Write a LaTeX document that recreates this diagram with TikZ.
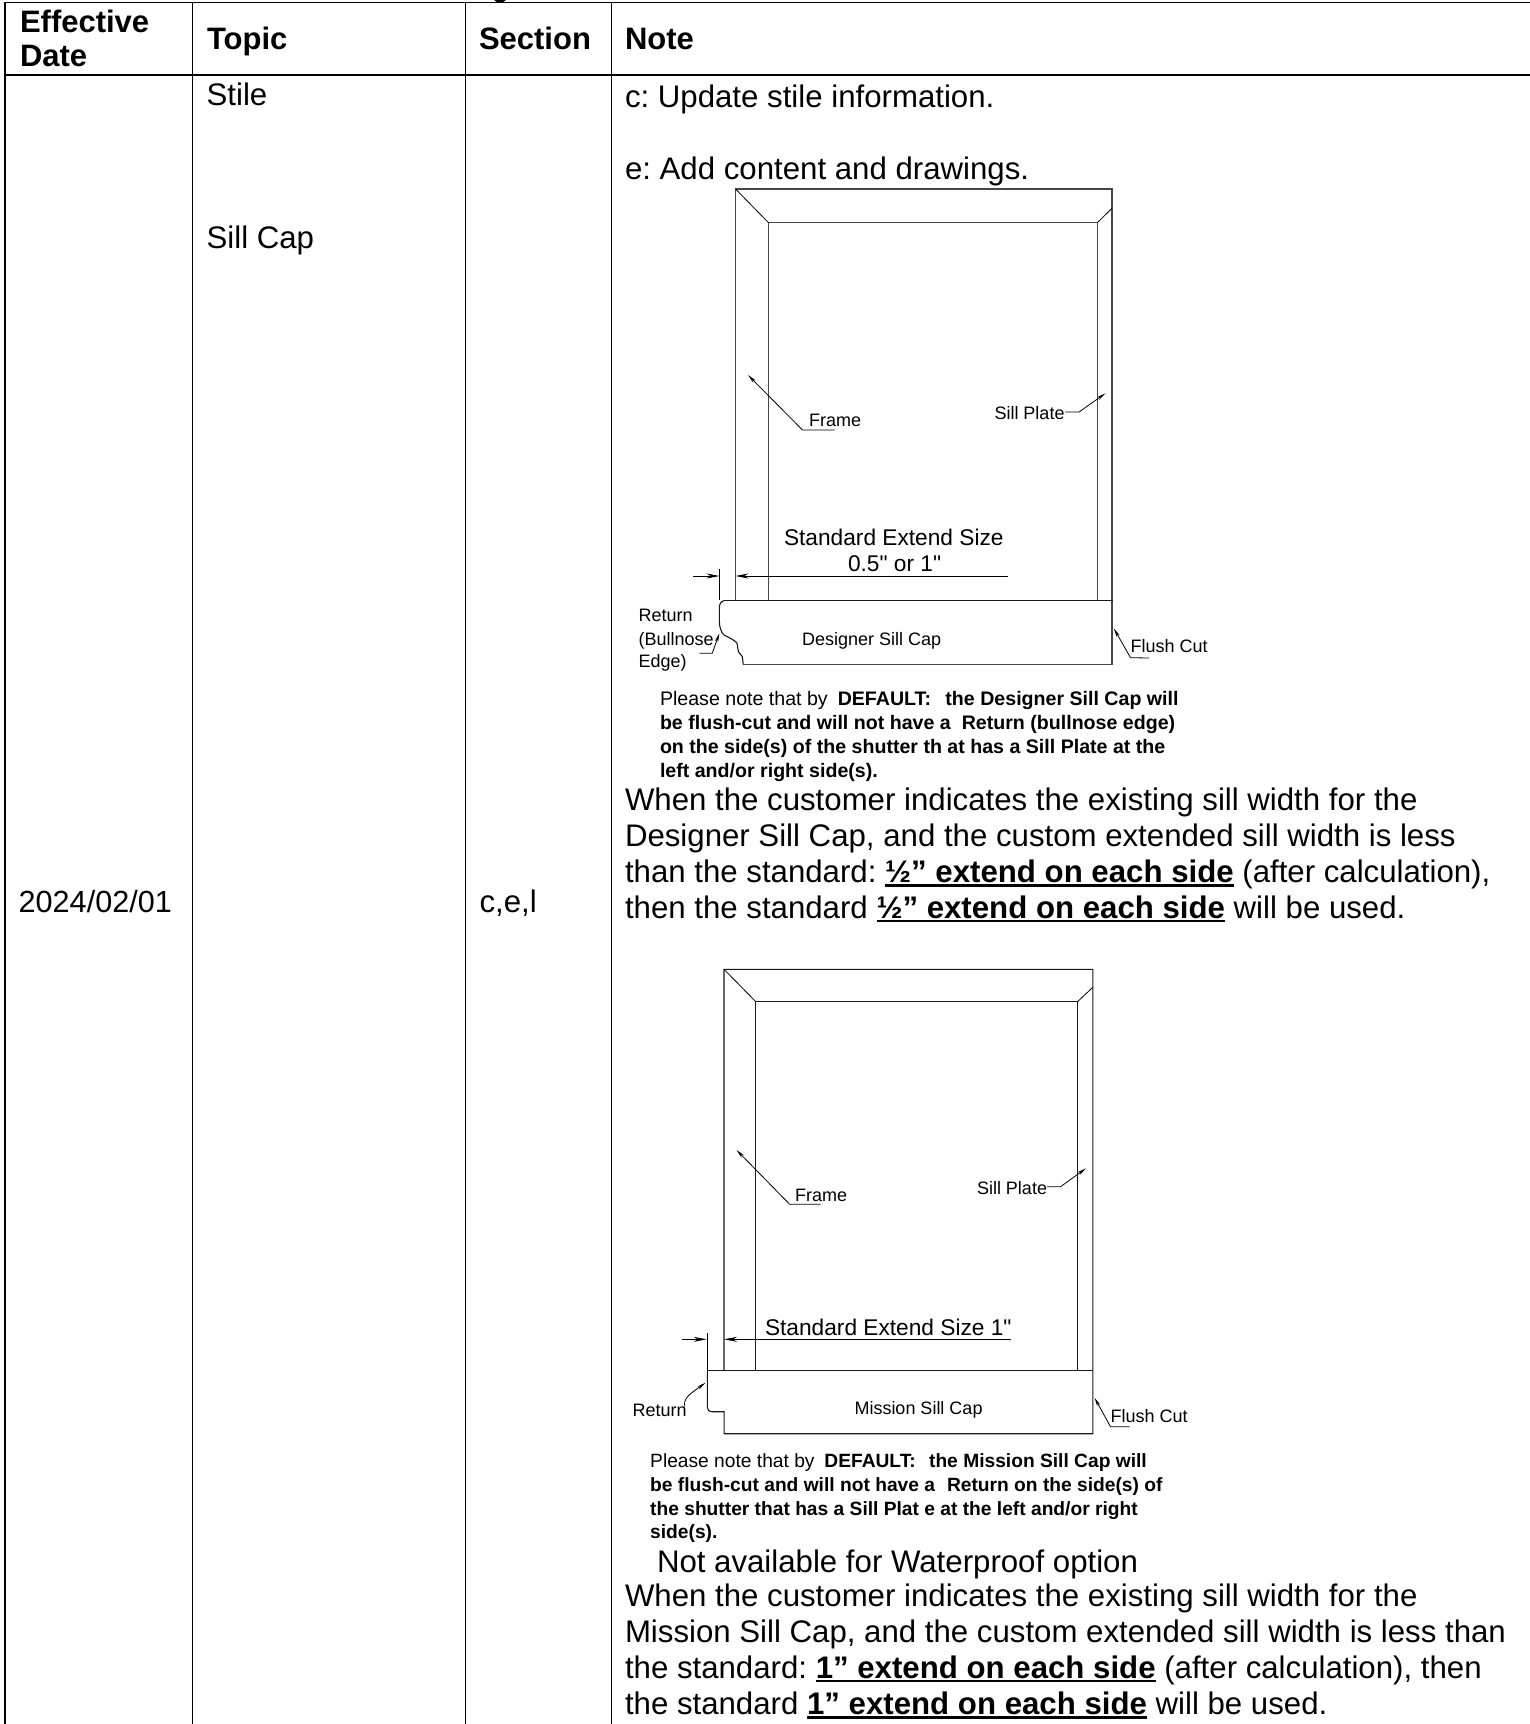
\documentclass[tikz,border=0pt]{standalone}
\usepackage{fontspec}
\setmainfont[Ligatures=TeXOff]{Liberation Sans}
\usetikzlibrary{arrows.meta}
\newsavebox{\ulbox}
\newcommand{\ulb}[1]{\sbox{\ulbox}{\textbf{#1}}\rlap{\rule[-4pt]{\wd\ulbox}{2.4pt}}\usebox{\ulbox}}
\newcommand{\fsmain}{\frenchspacing\fontsize{31.2}{36}\selectfont}
\newcommand{\fshead}{\frenchspacing\fontsize{31}{36}\selectfont\bfseries}
\newcommand{\fsnote}{\frenchspacing\fontsize{19.6}{24}\selectfont}
\newcommand{\fsnoteb}{\frenchspacing\fontsize{19.2}{24}\selectfont}
\newcommand{\fslab}{\frenchspacing\fontsize{18}{22}\selectfont}
\newcommand{\fsdim}{\frenchspacing\fontsize{22.7}{26}\selectfont}
\tikzset{
  x=1pt,y=-1pt,
  txt/.style={anchor=base west,inner sep=0pt,outer sep=0pt,text=black,font=\fsmain},
  hd/.style={txt,font=\fshead},
  nt/.style={txt,font=\fsnote},
  ntb/.style={txt,font=\fsnoteb},
  lab/.style={txt,font=\fslab},
  dimt/.style={txt,font=\fsdim},
  grid/.style={draw=black,line width=1.8pt},
  cad/.style={draw=black!72,line width=1.1pt},
  cadb/.style={draw=black!90,line width=1.1pt},
  thinl/.style={draw=black,line width=0.8pt},
  leader/.style={thinl,-{Stealth[length=9pt,width=3.4pt]}},
  dimarrow/.style={draw=black,line width=0.9pt,-{Stealth[length=13pt,width=5pt]}},
}
\begin{document}
\begin{tikzpicture}
\useasboundingbox (0,0) rectangle (1530,1724);
\clip (0,0) rectangle (1530,1724);
\fill[white] (0,0) rectangle (1530,1724);
% table grid
\draw[grid,line width=1.4pt] (5,2.4) -- (1530,2.4);
\draw[grid,line width=2.6pt] (5,75) -- (1530,75);
\draw[grid] (5,2) -- (5,1724);
\draw[grid] (192.5,2) -- (192.5,1724);
\draw[grid] (465.5,2) -- (465.5,1724);
\draw[grid] (611.5,2) -- (611.5,1724);
% tail of a cropped heading above the table
\fill[black] (494,0) -- (506,0) -- (503,2) -- (497,2) -- cycle;
% header
\node[hd] (h1) at (20,32) {Effective};
\node[hd] (h1b) at (20,66) {Date};
\node[hd] (h2) at (207,49.5) {Topic};
\node[hd] (h3) at (479,49.5) {Section};
\node[hd] (h4) at (625,49.5) {Note};
% cells
\node[txt] (topic1) at (206.6,105.5) {Stile};
\node[txt] (topic2) at (206.6,248.4) {Sill Cap};
\node[txt,font=\frenchspacing\fontsize{30.6}{36}\selectfont] (date) at (18.7,912) {2024/02/01};
\node[txt] (sect) at (479.5,912) {c,e,l};
\node[txt] (n1) at (625,107.7) {c: Update stile information.};
\node[txt] (n2) at (625,179) {e: Add content and drawings.};
% ---------- designer drawing
\draw[cad] (735.5,600.7) -- (735.5,189) -- (1112,189) -- (1112,664.3) -- (743.2,664.3);
\draw[cad] (768.5,600.7) -- (768.5,222.7) -- (1097.3,222.7) -- (1097.3,600.7);
\draw[thinl] (735.5,189) -- (768.5,222.7);
\draw[thinl] (1112,208.3) -- (1097.3,222.7);
\draw[cad,draw=black!90] (724,600.7) -- (1113,600.7);
\draw[cad,draw=black!90] (724,600.7) .. controls (720.5,601.5) and (719.4,604) .. (719.4,608) -- (719.4,621.7)
  .. controls (719.4,627) and (721,632) .. (724,635) .. controls (730,638) and (734,640) .. (737,643)
  -- (737.6,647) -- (738.4,651.7) -- (742.4,656.7) -- (743.2,664.3);
\draw[thinl] (719.8,569.3) -- (719.8,600);
\coordinate (fa1) at (834.6,430); \coordinate (fa2) at (802.5,430); \coordinate (fa3) at (748,375);
\draw[leader] (fa1) -- (fa2) -- (fa3);
\node[lab] (frame1) at (809,426.7) {Frame};
\node[lab] (plate1) at (994.5,419) {Sill Plate};
\coordinate (pa1) at (1065,412); \coordinate (pa2) at (1079,412); \coordinate (pa3) at (1105.5,393.3);
\draw[leader] (pa1) -- (pa2) -- (pa3);
\node[dimt] (std1) at (784,545) {Standard Extend Size};
\node[dimt] (std1b) at (848,571.7) {0.5" or 1"};
\coordinate (da1) at (693,576); \coordinate (da2) at (719.4,576);
\draw[dimarrow] (da1) -- (da2);
\coordinate (da3) at (1008,576); \coordinate (da4) at (735.5,576);
\draw[dimarrow] (da3) -- (da4);
\node[lab] (ret1) at (638.7,621.7) {Return};
\node[lab] (ret2) at (638.7,645) {(Bullnose};
\node[lab] (ret3) at (638.7,667) {Edge)};
\coordinate (ra1) at (699.5,653.3); \coordinate (ra2) at (712.2,653.3); \coordinate (ra3) at (719.4,633.3);
\draw[leader] (ra1) -- (ra2) -- (ra3);
\node[lab] (cap1) at (802,645) {Designer Sill Cap};
\coordinate (fc1) at (1149,658); \coordinate (fc2) at (1130.5,657.7); \coordinate (fc3) at (1113.8,628.3);
\draw[leader] (fc1) -- (fc2) -- (fc3);
\node[lab] (flush1) at (1130.5,652.7) {Flush Cut};
\node[nt] (p1a) at (660,705) {Please note that by\hspace{4.5pt} \textbf{DEFAULT:\hspace{9pt} the Designer Sill Cap will}};
\node[nt] (p1b) at (660,729.3) {\textbf{be flush-cut and will not have a\hspace{11pt}Return (bullnose edge)}};
\node[nt] (p1c) at (660,753.3) {\textbf{on the side(s) of the shutter th at has a Sill Plate at the}};
\node[nt] (p1d) at (660,777.3) {\textbf{left and/or right side(s).}};
\node[txt] (w1) at (625,810) {When the customer indicates the existing sill width for the};
\node[txt] (w2) at (625,846) {Designer Sill Cap, and the custom extended sill width is less};
\node[txt] (w3) at (625,882.5) {than the standard: \ulb{½” extend on each side} (after calculation),};
\node[txt] (w4) at (625,918) {then the standard \ulb{½” extend on each side} will be used.};
% ---------- mission drawing
\draw[cadb] (724,1370.7) -- (724,969.3) -- (1092.8,969.3) -- (1092.8,1433.7) -- (724.1,1433.7) -- (724.1,1411.7) -- (712.2,1411.7)
  .. controls (709,1411.5) and (707.4,1410) .. (707.4,1407.3) -- (707.4,1370.7);
\draw[cadb] (755.8,1370.7) -- (755.8,1001.7) -- (1077.5,1001.7) -- (1077.5,1370.7);
\draw[thinl] (724,969.3) -- (755.8,1001.7);
\draw[thinl] (1092.8,987.3) -- (1077.5,1001.7);
\draw[cadb] (708.2,1370.7) -- (1092.8,1370.7);
\draw[thinl] (707.4,1332.7) -- (707.4,1370.7);
\coordinate (fb1) at (820.7,1204.3); \coordinate (fb2) at (789.7,1204.3); \coordinate (fb3) at (736.5,1150);
\draw[leader] (fb1) -- (fb2) -- (fb3);
\node[lab] (frame2) at (795,1201.7) {Frame};
\node[lab] (plate2) at (977,1194.3) {Sill Plate};
\coordinate (pb1) at (1047,1186.7); \coordinate (pb2) at (1060.5,1186.7); \coordinate (pb3) at (1086,1168.3);
\draw[leader] (pb1) -- (pb2) -- (pb3);
\node[dimt] (std2) at (765,1335) {Standard Extend Size 1"};
\coordinate (db1) at (681.6,1339.3); \coordinate (db2) at (706.6,1339.3);
\draw[dimarrow] (db1) -- (db2);
\coordinate (db3) at (1011,1339.3); \coordinate (db4) at (724.1,1339.3);
\draw[dimarrow] (db3) -- (db4);
\node[lab] (ret4) at (632.7,1416.7) {Return};
\coordinate (rb1) at (684.8,1406.7); \coordinate (rb3) at (705.5,1382.7);
\draw[leader] (rb1) .. controls (683,1398) and (690,1394) .. (rb3);
\node[lab] (cap2) at (854.5,1414) {Mission Sill Cap};
\coordinate (fd1) at (1129.5,1426.7); \coordinate (fd2) at (1110.5,1426.7); \coordinate (fd3) at (1094.5,1397.7);
\draw[leader] (fd1) -- (fd2) -- (fd3);
\node[lab] (flush2) at (1110.5,1422.7) {Flush Cut};
\node[ntb] (p2a) at (650.2,1467.3) {Please note that by\hspace{4.5pt} \textbf{DEFAULT:\hspace{8pt} the Mission Sill Cap will}};
\node[ntb] (p2b) at (650.2,1491) {\textbf{be flush-cut and will not have a\hspace{12pt}Return on the side(s) of}};
\node[ntb] (p2c) at (650.2,1515) {\textbf{the shutter that has a Sill Plat e at the left and/or right}};
\node[ntb] (p2d) at (650.2,1538.3) {\textbf{side(s).}};
\node[txt] (na) at (657,1572) {Not available for Waterproof option};
\node[txt] (m1) at (625,1606) {When the customer indicates the existing sill width for the};
\node[txt] (m2) at (625,1642) {Mission Sill Cap, and the custom extended sill width is less than};
\node[txt] (m3) at (625,1678) {the standard: \ulb{1” extend on each side} (after calculation), then};
\node[txt] (m4) at (625,1714.5) {the standard \ulb{1” extend on each side} will be used.};
\end{tikzpicture}
\end{document}
